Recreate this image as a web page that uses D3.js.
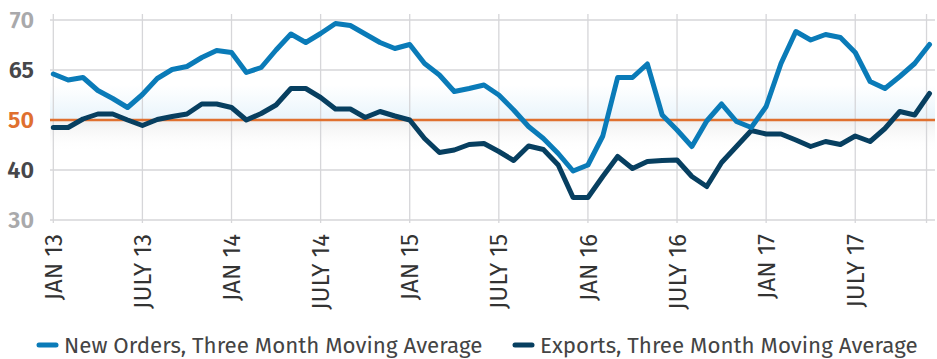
<!DOCTYPE html>
<html>
<head>
<meta charset="utf-8">
<script src="https://cdn.jsdelivr.net/npm/d3@7"></script>
<style>
  html, body { margin: 0; padding: 0; background: #fff; }
  svg { display: block; }
  text { font-family: "Fira Sans", "Open Sans", "Noto Sans", sans-serif; }
</style>
</head>
<body>
<svg id="chart" width="937" height="359"></svg>
<script>
// Monthly index readings, Jan 2013 – Dec 2017 (three month moving averages)
const monthCount = 60;

const newOrders = [
  59.2, 58.0, 58.5, 55.9, 54.3, 52.5, 55.1, 58.3, 60.1, 60.7, 62.5, 63.9,
  63.5, 59.5, 60.5, 64.0, 67.2, 65.5, 67.3, 69.3, 68.9, 67.2, 65.5, 64.3,
  65.1, 61.3, 59.0, 55.7, 56.3, 57.0, 55.0, 52.0, 48.7, 46.3, 43.3, 39.8,
  41.0, 46.8, 58.5, 58.5, 61.2, 51.0, 48.0, 44.7, 49.8, 53.2, 49.7, 48.5,
  52.7, 61.3, 67.7, 66.0, 67.1, 66.5, 63.5, 57.7, 56.3, 58.7, 61.3, 65.1
];

const exportsIdx = [
  48.5, 48.5, 50.2, 51.2, 51.2, 50.0, 48.9, 50.1, 50.7, 51.2, 53.2, 53.2,
  52.5, 50.0, 51.3, 53.0, 56.3, 56.3, 54.5, 52.2, 52.2, 50.5, 51.7, 50.8,
  50.0, 46.3, 43.5, 44.0, 45.1, 45.3, 43.7, 41.9, 44.8, 44.1, 41.0, 34.5,
  34.5, 38.7, 42.7, 40.3, 41.7, 41.9, 42.0, 38.7, 36.7, 41.5, 44.7, 47.9,
  47.2, 47.2, 46.0, 44.7, 45.7, 45.1, 46.8, 45.7, 48.3, 51.7, 51.0, 55.3
];

// Y axis ticks and their printed labels
const yTickValues = [30, 40, 50, 60, 70];
const yTickLabels = ["30", "40", "50", "65", "70"];
const yTickColors = ["#a9a9ab", "#47474a", "#e0702f", "#47474a", "#a9a9ab"];

// X axis ticks: month offsets from Jan 2013 and labels
const xTickMonths = [0, 6, 12, 18, 24, 30, 36, 42, 48, 54];
const xTickLabels = ["JAN 13", "JULY 13", "JAN 14", "JULY 14", "JAN 15",
                     "JULY 15", "JAN 16", "JULY 16", "JAN 17", "JULY 17"];
const plotEdgeMonth = 58.8;   // right frame of the grid

const seriesNames = ["New Orders, Three Month Moving Average",
                     "Exports, Three Month Moving Average"];
const seriesColors = ["#0a7bb8", "#073f60"];
const thresholdValue = 50;

const svg = d3.select("#chart");

const x = d3.scaleLinear().domain([0, monthCount - 1]).range([53.3, 929.5]);
const y = d3.scaleLinear().domain([30, 70]).range([220, 20]);

const left = 50, right = 935;

// Soft bands around the 50 line
const defs = svg.append("defs");
const gUp = defs.append("linearGradient").attr("id", "bandUp")
  .attr("x1", 0).attr("y1", 0).attr("x2", 0).attr("y2", 1);
gUp.append("stop").attr("offset", "0%").attr("stop-color", "#eaf5fc").attr("stop-opacity", 0);
gUp.append("stop").attr("offset", "100%").attr("stop-color", "#e8f4fb").attr("stop-opacity", 1);
const gDn = defs.append("linearGradient").attr("id", "bandDown")
  .attr("x1", 0).attr("y1", 0).attr("x2", 0).attr("y2", 1);
gDn.append("stop").attr("offset", "0%").attr("stop-color", "#eeeeee").attr("stop-opacity", 1);
gDn.append("stop").attr("offset", "100%").attr("stop-color", "#ffffff").attr("stop-opacity", 0);

svg.append("rect")
  .attr("x", left).attr("width", right - left)
  .attr("y", y(57)).attr("height", y(thresholdValue) - y(57))
  .attr("fill", "url(#bandUp)");
svg.append("rect")
  .attr("x", left).attr("width", right - left)
  .attr("y", y(thresholdValue)).attr("height", y(43.5) - y(thresholdValue))
  .attr("fill", "url(#bandDown)");

// Grid
const grid = svg.append("g").attr("stroke", "#d6d6d9").attr("stroke-width", 1.3);
grid.selectAll("line.h")
  .data(yTickValues.filter(v => v !== thresholdValue))
  .join("line")
  .attr("x1", left).attr("x2", right)
  .attr("y1", d => y(d)).attr("y2", d => y(d));
grid.selectAll("line.v")
  .data(xTickMonths.concat([plotEdgeMonth]))
  .join("line")
  .attr("x1", d => x(d)).attr("x2", d => x(d))
  .attr("y1", y(70) - 6).attr("y2", y(30) + 3);

// Threshold line
svg.append("line")
  .attr("x1", left).attr("x2", right)
  .attr("y1", y(thresholdValue)).attr("y2", y(thresholdValue))
  .attr("stroke", "#e0702f").attr("stroke-width", 2.5);

// Y labels
svg.append("g").selectAll("text")
  .data(yTickValues)
  .join("text")
  .attr("x", 34)
  .attr("y", d => y(d))
  .attr("dy", "0.36em")
  .attr("text-anchor", "end")
  .attr("font-size", 23.5)
  .attr("font-weight", 600)
  .attr("fill", (d, i) => yTickColors[i])
  .text((d, i) => yTickLabels[i]);

// X labels (rotated)
svg.append("g").selectAll("text")
  .data(xTickMonths)
  .join("text")
  .attr("transform", d => `translate(${x(d)},${y(30) + 14}) rotate(-90)`)
  .attr("text-anchor", "end")
  .attr("dy", "0.36em")
  .attr("font-size", 24)
  .attr("fill", "#333")
  .text((d, i) => xTickLabels[i]);

// Lines
const line = d3.line()
  .x((d, i) => x(i))
  .y(d => y(d));

[exportsIdx, newOrders].forEach((vals, k) => {
  const idx = k === 0 ? 1 : 0;
  svg.append("path")
    .datum(vals)
    .attr("d", line)
    .attr("fill", "none")
    .attr("stroke", seriesColors[idx])
    .attr("stroke-width", 5)
    .attr("stroke-linejoin", "round")
    .attr("stroke-linecap", "round");
});

// Legend
const legendX = [37, 513];
const legend = svg.append("g");
seriesNames.forEach((name, i) => {
  const g = legend.append("g").attr("transform", `translate(${legendX[i]},345)`);
  g.append("line")
    .attr("x1", 2).attr("x2", 19)
    .attr("y1", 0).attr("y2", 0)
    .attr("stroke", seriesColors[i])
    .attr("stroke-width", 5)
    .attr("stroke-linecap", "round");
  g.append("text")
    .attr("x", 27)
    .attr("dy", "0.35em")
    .attr("font-size", 22.3)
    .attr("fill", "#444")
    .text(name);
});
</script>
</body>
</html>
